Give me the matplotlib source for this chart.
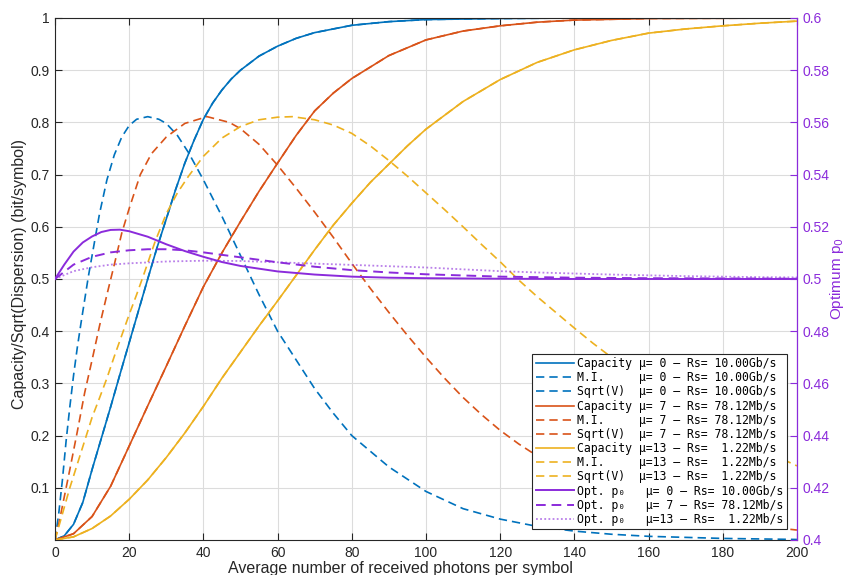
import matplotlib
matplotlib.use("Agg")
import matplotlib.pyplot as plt
from matplotlib.ticker import FixedLocator, FormatStrFormatter

# --- data ---
# capacity curves (left axis)
x_cap_mu0 = [0, 2.5, 5, 7.5, 10, 12.5, 15, 17.5, 20, 22.5, 25, 27.5, 30, 32.5, 35, 37.5, 40,
             42.5, 45, 47.5, 50, 55, 60, 65, 70, 80, 90, 100, 120, 140, 200]
cap_mu0 = [0, 0.008, 0.03, 0.072, 0.135, 0.195, 0.255, 0.317, 0.378, 0.439, 0.5, 0.56, 0.615,
           0.671, 0.722, 0.766, 0.806, 0.837, 0.862, 0.883, 0.9, 0.927, 0.946, 0.961, 0.972,
           0.986, 0.993, 0.997, 0.999, 1.0, 1.0]

x_cap_mu7 = [0, 5, 10, 15, 20, 25, 30, 35, 40, 45, 50, 55, 60, 65, 70, 75, 80, 90, 100, 110,
             120, 130, 140, 160, 200]
cap_mu7 = [0, 0.012, 0.045, 0.103, 0.18, 0.257, 0.333, 0.41, 0.485, 0.55, 0.61, 0.668, 0.722,
           0.775, 0.822, 0.856, 0.884, 0.928, 0.958, 0.975, 0.985, 0.992, 0.996, 0.999, 1.0]

x_cap_mu13 = [0, 5, 10, 15, 20, 25, 30, 35, 40, 45, 50, 55, 60, 65, 70, 75, 80, 85, 90, 95,
              100, 110, 120, 130, 140, 150, 160, 170, 180, 190, 200]
cap_mu13 = [0, 0.006, 0.022, 0.046, 0.078, 0.115, 0.158, 0.205, 0.256, 0.31, 0.36, 0.41,
            0.458, 0.507, 0.556, 0.603, 0.645, 0.685, 0.72, 0.755, 0.787, 0.84, 0.882, 0.915,
            0.939, 0.957, 0.971, 0.979, 0.985, 0.99, 0.994]

# sqrt(dispersion) curves (left axis)
x_sv_mu0 = [0, 1, 2, 3, 4, 5, 6, 7, 8, 9, 10, 12, 14, 16, 18, 20, 22, 25, 28, 30, 33, 36, 40,
            45, 50, 55, 60, 65, 70, 75, 80, 90, 100, 110, 120, 130, 140, 150, 160, 180, 200]
sv_mu0 = [0, 0.05, 0.115, 0.19, 0.255, 0.315, 0.368, 0.415, 0.46, 0.505, 0.545, 0.625, 0.69,
          0.738, 0.772, 0.794, 0.806, 0.811, 0.806, 0.798, 0.775, 0.742, 0.69, 0.62, 0.545,
          0.47, 0.4, 0.345, 0.29, 0.243, 0.2, 0.14, 0.093, 0.06, 0.04, 0.026, 0.017, 0.011,
          0.007, 0.003, 0.001]

x_sv_mu7 = [0, 1, 2, 3, 4, 6, 8, 10, 12, 14, 16, 18, 20, 23, 26, 30, 35, 41, 47, 50, 55, 60,
            65, 70, 75, 80, 85, 90, 95, 100, 105, 110, 115, 120, 125, 130, 140, 150, 160, 170,
            180, 190, 200]
sv_mu7 = [0, 0.03, 0.065, 0.1, 0.135, 0.207, 0.282, 0.345, 0.41, 0.47, 0.528, 0.588, 0.635,
          0.7, 0.74, 0.772, 0.798, 0.811, 0.8, 0.788, 0.758, 0.718, 0.674, 0.628, 0.58, 0.53,
          0.482, 0.436, 0.392, 0.35, 0.31, 0.273, 0.24, 0.21, 0.184, 0.161, 0.124, 0.095,
          0.072, 0.053, 0.038, 0.027, 0.019]

x_sv_mu13 = [0, 2, 4, 6, 8, 10, 12, 14, 16, 18, 20, 22, 24, 27, 30, 33, 36, 40, 45, 50, 55,
             60, 64, 70, 75, 80, 85, 90, 95, 100, 105, 110, 115, 120, 125, 130, 135, 140, 145,
             150, 160, 170, 180, 190, 200]
sv_mu13 = [0, 0.05, 0.1, 0.145, 0.19, 0.235, 0.272, 0.31, 0.352, 0.392, 0.432, 0.47, 0.51,
           0.572, 0.625, 0.665, 0.697, 0.735, 0.77, 0.792, 0.805, 0.81, 0.811, 0.805, 0.795,
           0.779, 0.755, 0.727, 0.697, 0.665, 0.633, 0.6, 0.566, 0.533, 0.498, 0.466, 0.436,
           0.406, 0.377, 0.35, 0.3, 0.254, 0.213, 0.175, 0.142]

# optimum p0 (right axis)
x_p0_mu0 = [0, 2.5, 5, 7.5, 10, 12.5, 15, 17.5, 20, 25, 30, 35, 40, 45, 50, 60, 70, 80, 90,
            100, 120, 140, 200]
p0_mu0 = [0.5, 0.5055, 0.5105, 0.514, 0.5163, 0.518, 0.5188, 0.5189, 0.5183, 0.5162, 0.5133,
          0.5107, 0.5085, 0.5065, 0.505, 0.5029, 0.5017, 0.5009, 0.5005, 0.5003, 0.5001, 0.5,
          0.5]
x_p0_mu7 = [0, 5, 10, 15, 20, 25, 30, 35, 40, 50, 60, 70, 80, 90, 100, 120, 140, 160, 180, 200]
p0_mu7 = [0.5, 0.5055, 0.5085, 0.5102, 0.511, 0.5114, 0.5114, 0.511, 0.5102, 0.5083, 0.5064,
          0.5047, 0.5034, 0.5025, 0.5018, 0.5009, 0.5005, 0.5003, 0.5002, 0.5001]
x_p0_mu13 = [0, 5, 10, 15, 20, 30, 40, 50, 60, 70, 80, 90, 100, 110, 120, 130, 140, 150, 160,
             170, 180, 190, 200]
p0_mu13 = [0.5, 0.503, 0.5045, 0.5055, 0.506, 0.5067, 0.507, 0.5069, 0.5064, 0.5059, 0.5054,
           0.5049, 0.5044, 0.5037, 0.503, 0.5025, 0.5021, 0.5017, 0.5014, 0.5011, 0.5009,
           0.5007, 0.5006]

mu_labels = ["\u03bc= 0 \u2013 Rs= 10.00Gb/s", "\u03bc= 7 \u2013 Rs= 78.12Mb/s",
             "\u03bc=13 \u2013 Rs=  1.22Mb/s"]
x_ticks = list(range(0, 201, 20))
y_ticks = [0.1, 0.2, 0.3, 0.4, 0.5, 0.6, 0.7, 0.8, 0.9, 1.0]
y2_ticks = [0.4, 0.42, 0.44, 0.46, 0.48, 0.5, 0.52, 0.54, 0.56, 0.58, 0.6]

colors = ['#0072BD', '#D95319', '#EDB120']
purple = '#8B2BDB'
axcol = '#262626'

plt.rcParams['font.family'] = ['Liberation Sans', 'DejaVu Sans']
plt.rcParams['lines.solid_joinstyle'] = 'round'
plt.rcParams['lines.dash_joinstyle'] = 'round'

fig = plt.figure(figsize=(8.46, 5.75), dpi=100)
ax = fig.add_axes([0.065, 0.0609, 0.877, 0.9078])
ax2 = ax.twinx()

lw = 1.2
dash = (0, (5, 3))
caps = [(x_cap_mu0, cap_mu0), (x_cap_mu7, cap_mu7), (x_cap_mu13, cap_mu13)]
svs = [(x_sv_mu0, sv_mu0), (x_sv_mu7, sv_mu7), (x_sv_mu13, sv_mu13)]
handles = []
for i in range(3):
    h1, = ax.plot(caps[i][0], caps[i][1], color=colors[i], lw=lw,
                  label='Capacity ' + mu_labels[i])
    # M.I. coincides with the capacity curve
    h2, = ax.plot(caps[i][0], caps[i][1], color=colors[i], lw=lw, ls=dash,
                  label='M.I.     ' + mu_labels[i])
    h3, = ax.plot(svs[i][0], svs[i][1], color=colors[i], lw=lw, ls=dash,
                  label='Sqrt(V)  ' + mu_labels[i])
    handles += [h1, h2, h3]

g1, = ax2.plot(x_p0_mu0, p0_mu0, color=purple, lw=1.4, label='Opt. p\u2080   ' + mu_labels[0])
g2, = ax2.plot(x_p0_mu7, p0_mu7, color=purple, lw=1.4, ls=(0, (5, 3)),
               label='Opt. p\u2080   ' + mu_labels[1])
g3, = ax2.plot(x_p0_mu13, p0_mu13, color=purple, lw=1.3, ls=(0, (1, 1.3)), alpha=0.6,
               label='Opt. p\u2080   ' + mu_labels[2])
handles += [g1, g2, g3]

ax.set_xlim(0, 200)
ax.set_ylim(0, 1)
ax2.set_ylim(0.4, 0.6)
ax.xaxis.set_major_locator(FixedLocator(x_ticks))
ax.yaxis.set_major_locator(FixedLocator(y_ticks))
ax.yaxis.set_major_formatter(FormatStrFormatter('%g'))
ax2.yaxis.set_major_locator(FixedLocator(y2_ticks))
ax2.yaxis.set_major_formatter(FormatStrFormatter('%g'))

ax.grid(True, color='#dcdcdc', lw=0.8)
ax.set_axisbelow(True)
ax.tick_params(direction='in', length=5, width=0.8, colors=axcol, labelsize=10,
               top=True, right=False, pad=4)
ax2.tick_params(direction='in', length=5, width=0.8, colors=purple, labelsize=10, pad=4)
for s in ['left', 'top', 'bottom']:
    ax.spines[s].set_color(axcol)
    ax.spines[s].set_linewidth(0.8)
    ax2.spines[s].set_visible(False)
ax.spines['right'].set_visible(False)
ax2.spines['right'].set_color(purple)
ax2.spines['right'].set_linewidth(0.9)

ax.set_xlabel('Average number of received photons per symbol', fontsize=11.5, color=axcol)
ax.xaxis.set_label_coords(0.466, -0.040)
ax.set_ylabel('Capacity/Sqrt(Dispersion) (bit/symbol)', fontsize=11.5, color=axcol)
ax.yaxis.set_label_coords(-0.038, 0.51)
ax2.set_ylabel('Optimum p$_0$', fontsize=11, color=purple)
ax2.yaxis.set_label_coords(1.0425, 0.5)

leg = ax2.legend(handles=handles, loc='lower right', bbox_to_anchor=(0.9865, 0.0205),
                 borderaxespad=0, fancybox=False, framealpha=1, edgecolor=axcol,
                 prop={'family': ['DejaVu Sans Mono', 'DejaVu Sans'], 'size': 8.3},
                 handlelength=3.3, handletextpad=0.3, labelspacing=0.1, borderpad=0.3)
leg.get_frame().set_linewidth(0.8)

fig.savefig('out.png', dpi=100)
plt.close(fig)
